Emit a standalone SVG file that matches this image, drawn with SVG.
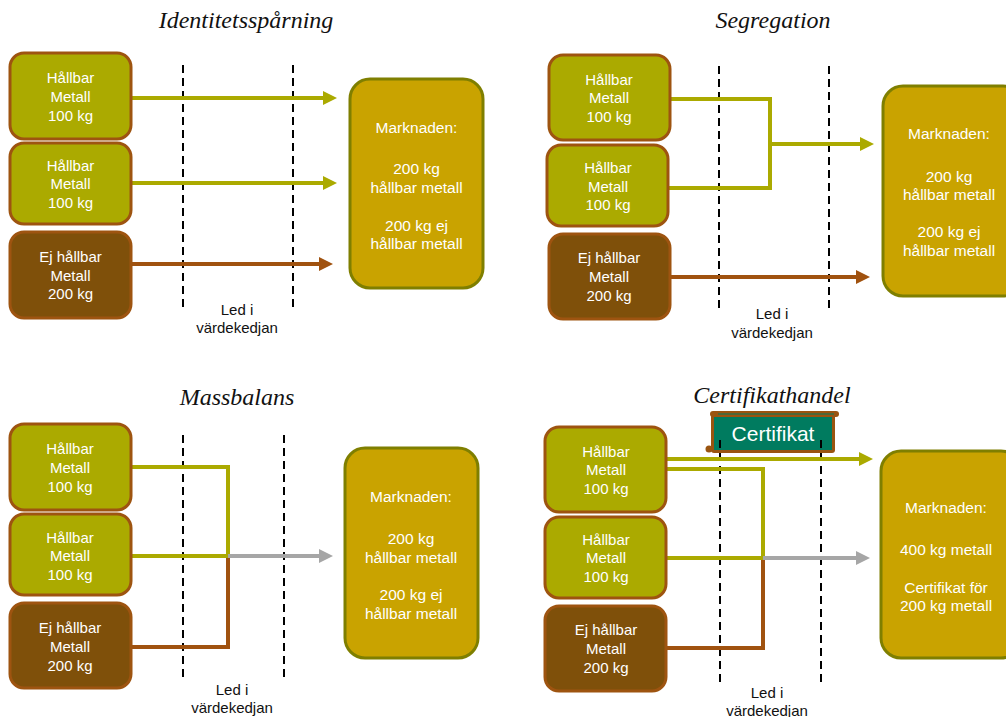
<svg xmlns="http://www.w3.org/2000/svg" width="1006" height="717" viewBox="0 0 1006 717">
<defs>
<style>
.title{font-family:"Liberation Serif",serif;font-style:italic;font-size:24px;fill:#111;text-anchor:middle}
.src{fill:#ABAA00;stroke:#9E5410;stroke-width:3}
.dsrc{fill:#7F500A;stroke:#9E5410;stroke-width:3}
.mkt{fill:#C9A300;stroke:#7F7F00;stroke-width:3}
.bt{font-family:"Liberation Sans",Arial,sans-serif;font-size:15px;fill:#fff;text-anchor:middle}
.mt{font-family:"Liberation Sans",Arial,sans-serif;font-size:15.5px;fill:#fff;text-anchor:middle}
.lbl{font-family:"Liberation Sans",Arial,sans-serif;font-size:15px;fill:#111;text-anchor:middle}
.dash{stroke:#000;stroke-width:2;stroke-dasharray:8 5;fill:none}
.ol{stroke:#ABAA00;stroke-width:4;fill:none}
.br{stroke:#A0520F;stroke-width:4;fill:none}
.gr{stroke:#A6A6A6;stroke-width:4;fill:none}
</style>
<marker id="aOl" markerUnits="userSpaceOnUse" markerWidth="14" markerHeight="14" refX="4" refY="7" orient="auto"><path d="M0,0 L14,7 L0,14 z" fill="#ABAA00"/></marker>
<marker id="aBr" markerUnits="userSpaceOnUse" markerWidth="14" markerHeight="14" refX="4" refY="7" orient="auto"><path d="M0,0 L14,7 L0,14 z" fill="#A0520F"/></marker>
<marker id="aGr" markerUnits="userSpaceOnUse" markerWidth="14" markerHeight="14" refX="4" refY="7" orient="auto"><path d="M0,0 L14,7 L0,14 z" fill="#A6A6A6"/></marker>
</defs>
<rect width="1006" height="717" fill="#fff"/>

<!-- titles -->
<text class="title" x="246" y="28">Identitetsspårning</text>
<text class="title" x="773" y="28">Segregation</text>
<text class="title" x="237" y="405">Massbalans</text>
<text class="title" x="772" y="403">Certifikathandel</text>

<g id="p4-certifikat">
<rect x="711" y="414" width="124" height="39" rx="3" fill="#9A5410"/>
<rect x="714" y="417" width="118" height="33" fill="#007B5F"/>
<rect x="710" y="411" width="129" height="6" rx="3" fill="#9A5410"/>
<line x1="718" y1="414" x2="834" y2="414" stroke="#007B5F" stroke-width="1.2"/>
<circle cx="709" cy="449" r="3.5" fill="#9A5410"/>
<text x="773" y="441" font-family="'Liberation Sans',Arial,sans-serif" font-size="21" fill="#fff" text-anchor="middle">Certifikat</text>
</g>

<!-- dashed value-chain lines -->
<g id="stages">
<line class="dash" x1="183" y1="65" x2="183" y2="308"/>
<line class="dash" x1="293" y1="65" x2="293" y2="308"/>
<line class="dash" x1="719" y1="66" x2="719" y2="308"/>
<line class="dash" x1="829" y1="66" x2="829" y2="308"/>
<line class="dash" x1="183" y1="435" x2="183" y2="678"/>
<line class="dash" x1="284" y1="435" x2="284" y2="678"/>
<line class="dash" x1="720" y1="440" x2="720" y2="682"/>
<line class="dash" x1="821" y1="440" x2="821" y2="682"/>
<text class="lbl" x="237" y="315">Led i</text>
<text class="lbl" x="237" y="333">värdekedjan</text>
<text class="lbl" x="772" y="319">Led i</text>
<text class="lbl" x="772" y="338">värdekedjan</text>
<text class="lbl" x="232" y="695">Led i</text>
<text class="lbl" x="232" y="713">värdekedjan</text>
<text class="lbl" x="767" y="698">Led i</text>
<text class="lbl" x="767" y="716">värdekedjan</text>
</g>

<!-- connectors -->
<g id="connectors">
<line class="ol" x1="131" y1="98" x2="327" y2="98" marker-end="url(#aOl)"/>
<line class="ol" x1="131" y1="183" x2="327" y2="183" marker-end="url(#aOl)"/>
<line class="br" x1="131" y1="264" x2="323" y2="264" marker-end="url(#aBr)"/>

<polyline class="ol" points="670,99 770,99 770,188 668,188"/>
<line class="ol" x1="770" y1="144" x2="864" y2="144" marker-end="url(#aOl)"/>
<line class="br" x1="670" y1="277" x2="860" y2="277" marker-end="url(#aBr)"/>

<polyline class="ol" points="131,467 228,467 228,556"/>
<polyline class="br" points="131,647 228,647 228,556"/>
<line class="ol" x1="131" y1="556" x2="228" y2="556"/>
<line class="gr" x1="228" y1="556" x2="323" y2="556" marker-end="url(#aGr)"/>

<line class="ol" x1="666" y1="459" x2="863" y2="459" marker-end="url(#aOl)"/>
<polyline class="ol" points="666,469 763,469 763,558"/>
<polyline class="br" points="666,648 763,648 763,558"/>
<line class="ol" x1="666" y1="558" x2="763" y2="558"/>
<line class="gr" x1="763" y1="558" x2="860" y2="558" marker-end="url(#aGr)"/>
</g>

<!-- Panel 1 -->
<g id="p1-src1"><rect class="src" x="10" y="53" width="121" height="86" rx="14"/>
<text class="bt" x="70.5" y="83">Hållbar</text><text class="bt" x="70.5" y="102">Metall</text><text class="bt" x="70.5" y="121">100 kg</text></g>
<g id="p1-src2"><rect class="src" x="10" y="143" width="121" height="81" rx="14"/>
<text class="bt" x="70.5" y="171">Hållbar</text><text class="bt" x="70.5" y="189">Metall</text><text class="bt" x="70.5" y="208">100 kg</text></g>
<g id="p1-src3"><rect class="dsrc" x="10" y="232" width="121" height="86" rx="14"/>
<text class="bt" x="70.5" y="262">Ej hållbar</text><text class="bt" x="70.5" y="281">Metall</text><text class="bt" x="70.5" y="299">200 kg</text></g>
<g id="p1-market"><rect class="mkt" x="350" y="79" width="133" height="209" rx="20"/>
<text class="mt" x="416.5" y="133">Marknaden:</text>
<text class="mt" x="416.5" y="174">200 kg</text><text class="mt" x="416.5" y="193">hållbar metall</text>
<text class="mt" x="416.5" y="231">200 kg ej</text><text class="mt" x="416.5" y="249">hållbar metall</text></g>

<!-- Panel 2 -->
<g id="p2-src1"><rect class="src" x="549" y="55" width="121" height="85" rx="14"/>
<text class="bt" x="609" y="85">Hållbar</text><text class="bt" x="609" y="103">Metall</text><text class="bt" x="609" y="122">100 kg</text></g>
<g id="p2-src2"><rect class="src" x="547" y="145" width="121" height="81" rx="14"/>
<text class="bt" x="608" y="173">Hållbar</text><text class="bt" x="608" y="192">Metall</text><text class="bt" x="608" y="210">100 kg</text></g>
<g id="p2-src3"><rect class="dsrc" x="549" y="234" width="121" height="85" rx="14"/>
<text class="bt" x="609" y="263">Ej hållbar</text><text class="bt" x="609" y="282">Metall</text><text class="bt" x="609" y="301">200 kg</text></g>
<g id="p2-market"><rect class="mkt" x="883" y="86" width="140" height="210" rx="20"/>
<text class="mt" x="949" y="139">Marknaden:</text>
<text class="mt" x="949" y="182">200 kg</text><text class="mt" x="949" y="200">hållbar metall</text>
<text class="mt" x="949" y="237">200 kg ej</text><text class="mt" x="949" y="256">hållbar metall</text></g>

<!-- Panel 3 -->
<g id="p3-src1"><rect class="src" x="10" y="424" width="121" height="86" rx="14"/>
<text class="bt" x="70" y="454">Hållbar</text><text class="bt" x="70" y="473">Metall</text><text class="bt" x="70" y="492">100 kg</text></g>
<g id="p3-src2"><rect class="src" x="10" y="514" width="121" height="81" rx="14"/>
<text class="bt" x="70" y="543">Hållbar</text><text class="bt" x="70" y="561">Metall</text><text class="bt" x="70" y="580">100 kg</text></g>
<g id="p3-src3"><rect class="dsrc" x="10" y="603" width="121" height="85" rx="14"/>
<text class="bt" x="70" y="633">Ej hållbar</text><text class="bt" x="70" y="652">Metall</text><text class="bt" x="70" y="671">200 kg</text></g>
<g id="p3-market"><rect class="mkt" x="345" y="448" width="133" height="210" rx="20"/>
<text class="mt" x="411" y="502">Marknaden:</text>
<text class="mt" x="411" y="544">200 kg</text><text class="mt" x="411" y="563">hållbar metall</text>
<text class="mt" x="411" y="600">200 kg ej</text><text class="mt" x="411" y="619">hållbar metall</text></g>

<!-- Panel 4 -->
<g id="p4-src1"><rect class="src" x="545" y="427" width="121" height="85" rx="14"/>
<text class="bt" x="606" y="457">Hållbar</text><text class="bt" x="606" y="475">Metall</text><text class="bt" x="606" y="494">100 kg</text></g>
<g id="p4-src2"><rect class="src" x="545" y="517" width="121" height="81" rx="14"/>
<text class="bt" x="606" y="545">Hållbar</text><text class="bt" x="606" y="563">Metall</text><text class="bt" x="606" y="582">100 kg</text></g>
<g id="p4-src3"><rect class="dsrc" x="545" y="606" width="121" height="85" rx="14"/>
<text class="bt" x="606" y="635">Ej hållbar</text><text class="bt" x="606" y="654">Metall</text><text class="bt" x="606" y="673">200 kg</text></g>
<g id="p4-market"><rect class="mkt" x="881" y="451" width="140" height="207" rx="20"/>
<text class="mt" x="946" y="513">Marknaden:</text>
<text class="mt" x="946" y="555">400 kg metall</text>
<text class="mt" x="946" y="593">Certifikat för</text><text class="mt" x="946" y="611">200 kg metall</text></g>
</svg>
